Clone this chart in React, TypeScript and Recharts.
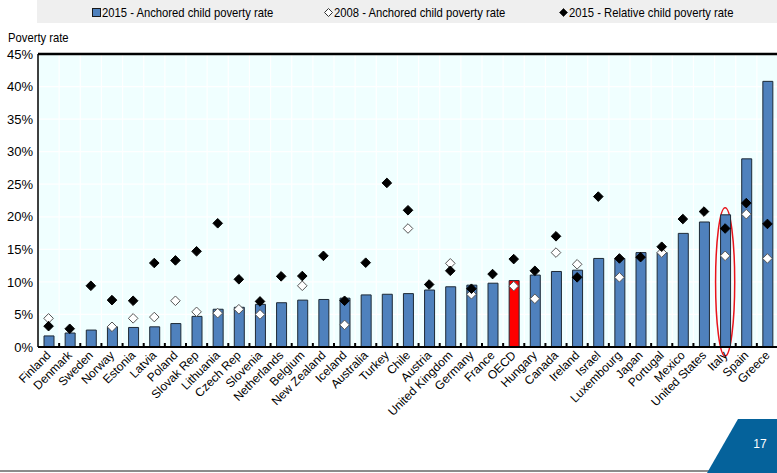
import React from "react";
import {
  ComposedChart,
  Bar,
  Cell,
  Scatter,
  XAxis,
  YAxis,
  CartesianGrid,
  ReferenceLine,
  ReferenceArea,
} from "recharts";

const countries = [
  "Finland", "Denmark", "Sweden", "Norway", "Estonia", "Latvia", "Poland", "Slovak Rep",
  "Lithuania", "Czech Rep", "Slovenia", "Netherlands", "Belgium", "New Zealand", "Iceland",
  "Australia", "Turkey", "Chile", "Austria", "United Kingdom", "Germany", "France", "OECD",
  "Hungary", "Canada", "Ireland", "Israel", "Luxembourg", "Japan", "Portugal", "Mexico",
  "United States", "Italy", "Spain", "Greece",
];

// 2015 anchored child poverty rate (%)
const anchored2015 = [
  1.7, 2.15, 2.6, 3.1, 3.0, 3.1, 3.6, 4.7, 5.8, 6.1, 6.55, 6.8, 7.2, 7.3, 7.5, 8.0, 8.1, 8.2,
  8.75, 9.25, 9.5, 9.8, 10.2, 11.05, 11.6, 11.8, 13.6, 13.6, 14.5, 14.5, 17.45, 19.2, 20.3,
  28.9, 40.8,
];

// 2008 anchored child poverty rate (%), null where not shown
const anchored2008 = [
  4.4, null, null, 3.1, 4.4, 4.6, 7.1, 5.4, 5.2, 5.8, 5.0, null, 9.4, null, 3.4, null, null,
  18.2, null, 12.85, 8.1, null, 9.35, 7.4, 14.5, 12.7, null, 10.7, null, 14.5, null, null,
  14.0, 20.4, 13.6,
];

// 2015 relative child poverty rate (%)
const relative2015 = [
  3.2, 2.8, 9.4, 7.2, 7.1, 12.9, 13.3, 14.7, 19.0, 10.4, 7.0, 10.85, 10.9, 14.0, 7.1, 12.95,
  25.2, 21.0, 9.6, 11.7, 8.95, 11.2, 13.5, 11.7, 17.0, 10.7, 23.1, 13.6, 13.8, 15.4, 19.65,
  20.8, 18.2, 22.1, 18.9,
];

const yTicks = [0, 5, 10, 15, 20, 25, 30, 35, 40, 45];
const highlighted = "OECD";
const circled = "Italy";
const circleRange = [-1.4, 21.4];

const legendItems = [
  { label: "2015 - Anchored child poverty rate", kind: "bar" },
  { label: "2008 - Anchored child poverty rate", kind: "open" },
  { label: "2015 - Relative child poverty rate", kind: "filled" },
];

const data = countries.map((country, i) => ({
  country,
  anchored2015: anchored2015[i],
  anchored2008: anchored2008[i],
  relative2015: relative2015[i],
}));

const FONT = '"Liberation Sans", Arial, sans-serif';
const CHART_W = 790;
const CHART_H = 473;
const MARGIN = { top: 54, right: 12, bottom: 26, left: 0 };
const Y_W = 38;
const PLOT_W = CHART_W - MARGIN.left - MARGIN.right - Y_W;
const BAND = PLOT_W / countries.length;

const BAR_BLUE = "#4F81BD";

// narrow-looking text: regular face squeezed horizontally
const narrow: React.CSSProperties = {
  display: "inline-block",
  transform: "scaleX(0.865)",
  transformOrigin: "left center",
};

function diamond(key: string, fill: string, stroke: string) {
  return (props: any) => {
    const { cx, cy, payload } = props;
    if (cx == null || cy == null || payload == null || payload[key] == null) return <g />;
    const r = 4.8;
    return (
      <polygon
        points={`${cx},${cy - r} ${cx + r},${cy} ${cx},${cy + r} ${cx - r},${cy}`}
        fill={fill}
        stroke={stroke}
        strokeWidth={1}
      />
    );
  };
}

function CountryTick(props: any) {
  const { x, y, payload } = props;
  const tx = x + 3;
  const ty = y + 9;
  return (
    <g>
      <line x1={x + BAND / 2} x2={x + BAND / 2} y1={y} y2={y - 4} stroke="#000" strokeWidth={2} />
      <text
        x={tx}
        y={ty}
        transform={`rotate(-45 ${tx} ${ty})`}
        textAnchor="end"
        fontSize={12}
        fontFamily={FONT}
        fill="#000"
      >
        {payload.value}
      </text>
    </g>
  );
}

function ItalyEllipse(props: any) {
  const { x, y, width, height } = props;
  return (
    <ellipse
      cx={x + width / 2}
      cy={y + height / 2}
      rx={width / 2 - 1}
      ry={height / 2}
      fill="none"
      stroke="#E8141B"
      strokeWidth={1.5}
    />
  );
}

function LegendMarker({ kind }: { kind: string }) {
  if (kind === "bar") {
    return (
      <svg width={9} height={9} style={{ display: "block" }}>
        <rect x={0.5} y={0.5} width={8} height={8} fill={BAR_BLUE} stroke="#1A1A1A" strokeWidth={1} />
      </svg>
    );
  }
  const fill = kind === "open" ? "#fff" : "#000";
  return (
    <svg width={9} height={9} style={{ display: "block" }}>
      <polygon points="4.5,0.5 8.5,4.5 4.5,8.5 0.5,4.5" fill={fill} stroke="#333" strokeWidth={1} />
    </svg>
  );
}

const legendLeft = [92, 324, 559];

export default function App() {
  return (
    <div
      style={{
        position: "absolute",
        left: 0,
        top: 0,
        width: 777,
        height: 473,
        overflow: "hidden",
        background: "#fff",
        fontFamily: FONT,
      }}
    >
      <ComposedChart width={CHART_W} height={CHART_H} data={data} margin={MARGIN}>
        <CartesianGrid
          fill="#F0FFFF"
          fillOpacity={1}
          stroke="#FFFFFF"
          strokeWidth={1.2}
          verticalCoordinatesGenerator={({ offset }: any) =>
            countries.slice(1).map((_, i) => offset.left + (i + 1) * (offset.width / countries.length))
          }
        />
        <XAxis
          dataKey="country"
          interval={0}
          height={100}
          tickSize={0}
          tickMargin={0}
          tickLine={false}
          axisLine={{ stroke: "#000", strokeWidth: 2 }}
          tick={<CountryTick />}
        />
        <YAxis
          width={Y_W}
          domain={[0, 45]}
          ticks={yTicks}
          tickFormatter={(v) => `${v}%`}
          tickLine={false}
          tickSize={0}
          tickMargin={5}
          axisLine={{ stroke: "#000", strokeWidth: 1.5 }}
          tick={{ fontSize: 13, fill: "#000", fontFamily: FONT }}
        />
        <ReferenceLine y={45} stroke="#000" strokeWidth={2.5} />
        <Bar
          dataKey="anchored2015"
          barSize={10}
          fill={BAR_BLUE}
          stroke="#1E2A36"
          strokeWidth={1}
          isAnimationActive={false}
        >
          {data.map((d) => (
            <Cell key={d.country} fill={d.country === highlighted ? "#FF0000" : BAR_BLUE} />
          ))}
        </Bar>
        <Scatter
          dataKey="anchored2008"
          shape={diamond("anchored2008", "#FFFFFF", "#555555")}
          isAnimationActive={false}
        />
        <Scatter
          dataKey="relative2015"
          shape={diamond("relative2015", "#000000", "#000000")}
          isAnimationActive={false}
        />
        <ReferenceArea
          x1={circled}
          x2={circled}
          y1={circleRange[0]}
          y2={circleRange[1]}
          ifOverflow="visible"
          shape={<ItalyEllipse />}
        />
      </ComposedChart>

      {/* legend strip */}
      <div
        style={{
          position: "absolute",
          left: 37,
          top: 0,
          width: 740,
          height: 23,
          background: "#EFEFEF",
        }}
      />
      {legendItems.map((item, i) => (
        <div
          key={item.label}
          style={{
            position: "absolute",
            left: legendLeft[i],
            top: 4,
            height: 16,
            display: "flex",
            alignItems: "center",
            gap: 1,
            fontSize: 13,
            color: "#000",
            whiteSpace: "nowrap",
          }}
        >
          <LegendMarker kind={item.kind} />
          <span style={narrow}>{item.label}</span>
        </div>
      ))}

      <div style={{ position: "absolute", left: 8, top: 30, fontSize: 13, color: "#000" }}>
        <span style={narrow}>Poverty rate</span>
      </div>

      {/* footer */}
      <div
        style={{
          position: "absolute",
          left: 0,
          top: 470,
          width: 710,
          height: 2,
          background: "#8C8C8C",
        }}
      />
      <div
        style={{
          position: "absolute",
          left: 707,
          top: 419,
          width: 70,
          height: 54,
          background: "#05629B",
          clipPath: "polygon(31px 0, 70px 0, 70px 54px, 0 54px)",
        }}
      />
      <div
        style={{
          position: "absolute",
          left: 745,
          top: 437,
          width: 30,
          textAlign: "center",
          fontSize: 12,
          color: "#fff",
          fontFamily: FONT,
        }}
      >
        17
      </div>
    </div>
  );
}
